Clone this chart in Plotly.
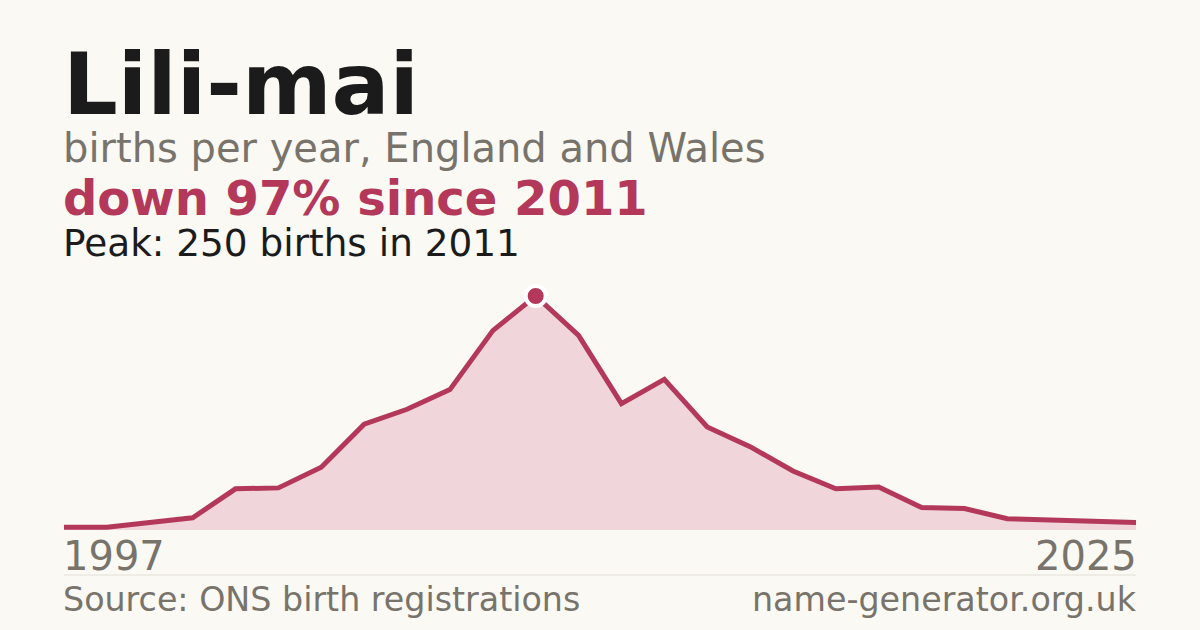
import plotly.graph_objects as go

# births per year for the name (years with no data skipped)
years = [1997, 2001, 2002, 2003, 2004, 2005, 2006, 2007, 2008, 2009, 2010, 2011, 2012,
         2013, 2014, 2015, 2016, 2017, 2018, 2019, 2020, 2021, 2022, 2023, 2024, 2025]
births = [3, 3, 8, 13, 44, 45, 67, 113, 129, 150, 213, 250, 208,
          135, 161, 110, 89, 63, 44, 46, 24, 23, 12, 11, 10, 8]

name = "Lili-mai"
subtitle = "births per year, England and Wales"
source = "Source: ONS birth registrations"
site = "name-generator.org.uk"

RED = "#b3385a"
FILL = "#f0d5db"
GREY = "#78736b"
BG = "#faf9f4"
FONT = "DejaVu Sans"

peak_i = births.index(max(births))
peak_year = years[peak_i]
drop = round((1 - births[-1] / births[peak_i]) * 100)

x_cats = [str(y) for y in years]

fig = go.Figure()
fig.add_trace(go.Scatter(
    x=x_cats, y=births, mode="lines",
    line=dict(color=RED, width=5),
    fill="tozeroy", fillcolor=FILL,
    cliponaxis=False, hoverinfo="skip"
))
fig.add_trace(go.Scatter(
    x=[x_cats[peak_i]], y=[births[peak_i]], mode="markers",
    marker=dict(size=20, color=RED, line=dict(color="white", width=4)),
    cliponaxis=False, hoverinfo="skip"
))

# plot area runs from y=296 to y=530 px, x from 64 to 1136
top, bottom = 296, 530
left, right = 64, 1136
def py(p):
    return (bottom - p) / (bottom - top)

pad = 3 / (right - left)  # annotation boxes carry a little padding

def note(text, x, y, size, color, bold=False, xanchor="left"):
    if bold:
        text = "<b>" + text + "</b>"
    xx = x - pad if xanchor == "left" else x + pad
    fig.add_annotation(text=text, xref="paper", yref="paper", x=xx, y=py(y),
                       xanchor=xanchor, yanchor="middle", showarrow=False,
                       font=dict(family=FONT, size=size, color=color))

note(name, 0, 84, 86, "#1b1b1b", bold=True)
note(subtitle, 0, 148, 40, GREY)
note(f"down {drop}% since {peak_year}", 0, 198, 48, RED, bold=True)
note(f"Peak: {births[peak_i]} births in {peak_year}", 0, 243, 37.4, "#1b1b1b")
note(str(years[0]), 0, 556, 40, GREY)
note(str(years[-1]), 1, 556, 40, GREY, xanchor="right")
note(source, 0, 599, 33.3, GREY)
note(site, 1, 599, 33.3, GREY, xanchor="right")

fig.add_shape(type="line", xref="paper", yref="paper", x0=0, x1=1, y0=py(575), y1=py(575),
              line=dict(color="#e3e0d8", width=1))

fig.update_layout(
    width=1200, height=630,
    margin=dict(l=left, r=1200 - right, t=top, b=630 - bottom),
    paper_bgcolor=BG, plot_bgcolor=BG,
    showlegend=False,
    xaxis=dict(type="category", range=[0, len(years) - 1], visible=False, fixedrange=True),
    yaxis=dict(range=[0, max(births)], visible=False, fixedrange=True),
)

fig.write_html("out.html", config={"displayModeBar": False},
               post_script="document.body.style.margin='0';document.body.style.background='" + BG + "';")
